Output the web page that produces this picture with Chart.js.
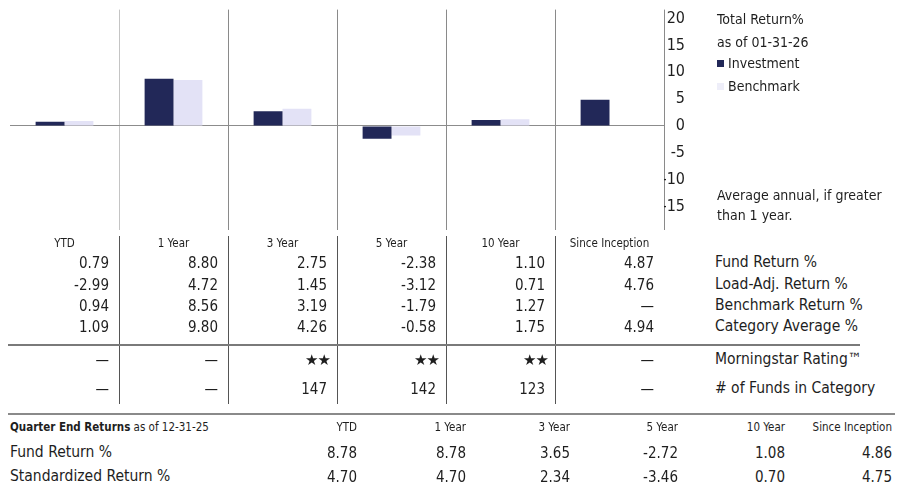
<!DOCTYPE html>
<html>
<head>
<meta charset="utf-8">
<script src="https://cdn.jsdelivr.net/npm/chart.js@4/dist/chart.umd.min.js"></script>
<style>
  html, body { margin: 0; padding: 0; background: #fff; }
  body { width: 900px; height: 497px; position: relative; overflow: hidden;
         font-family: "Liberation Sans Narrow", "DejaVu Sans Condensed", "Roboto Condensed", sans-serif; color: #1e1e1e; }
  #chartBox { position: absolute; left: 0; top: 0; width: 900px; height: 240px; }
  .t { position: absolute; white-space: nowrap; line-height: 1; }
  .hdr { font-size: 11.5px; transform: translate(-50%, -50%); }
  .val { font-size: 15px; transform: translate(-100%, -50%); }
  .lab { font-size: 15.5px; transform: translate(0, -50%); }
  .star { font-family: "DejaVu Sans", sans-serif; font-size: 15px; letter-spacing: -1px; transform: translate(-100%, -50%); }
  .vline { position: absolute; width: 1px; background: #555; }
  .hline { position: absolute; }
  .legsq { display: inline-block; width: 7px; height: 7px; margin-right: 4px; vertical-align: 1px; }
</style>
</head>
<body>
<div id="chartBox"><canvas id="c" width="900" height="240"></canvas></div>
<div id="table"></div>
<script>
// Trailing returns as of 01-31-26
const categories = ['YTD', '1 Year', '3 Year', '5 Year', '10 Year', 'Since Inception'];
const fundReturn = [0.79, 8.80, 2.75, -2.38, 1.10, 4.87];
const loadAdjReturn = [-2.99, 4.72, 1.45, -3.12, 0.71, 4.76];
const benchmarkReturn = [0.94, 8.56, 3.19, -1.79, 1.27, null];
const categoryAverage = [1.09, 9.80, 4.26, -0.58, 1.75, 4.94];
const ratingStars = [null, null, 2, 2, 2, null];
const fundsInCategory = [null, null, 147, 142, 123, null];

// Quarter-end returns as of 12-31-25
const quarterFundReturn = [8.78, 8.78, 3.65, -2.72, 1.08, 4.86];
const standardizedReturn = [4.70, 4.70, 2.34, -3.46, 0.70, 4.75];

const yTicks = [20, 15, 10, 5, 0, -5, -10, -15];

const NAVY = '#222858';
const LAVENDER = '#e3e2f6';
const FONT = '"Liberation Sans Narrow", "DejaVu Sans Condensed", sans-serif';

const chart = new Chart(document.getElementById('c'), {
  type: 'bar',
  data: {
    labels: categories,
    datasets: [
      { label: 'Investment', data: fundReturn, backgroundColor: NAVY },
      { label: 'Benchmark', data: benchmarkReturn, backgroundColor: LAVENDER }
    ]
  },
  options: {
    responsive: false,
    animation: false,
    devicePixelRatio: 1,
    layout: { padding: { left: 10, right: 215, top: 8, bottom: 10 } },
    plugins: { legend: { display: false }, tooltip: { enabled: false } },
    datasets: { bar: { categoryPercentage: 0.53, barPercentage: 1.0 } },
    scales: {
      x: {
        offset: true,
        ticks: { display: false },
        border: { display: false },
        grid: {
          offset: true,
          drawTicks: false,
          lineWidth: 1,
          color: (ctx) => {
            const i = ctx.index;
            if (i === 0 || i === categories.length) return 'rgba(0,0,0,0)';
            return i === 1 ? '#c4c4c4' : '#8a8a8a';
          }
        },
        afterFit: (s) => { s.height = 0; }
      },
      y: {
        position: 'right',
        min: -19.4,
        max: 21.7,
        afterBuildTicks: (s) => { s.ticks = yTicks.map(v => ({ value: v })); },
        border: { display: false },
        grid: {
          drawTicks: false,
          color: (ctx) => (ctx.tick && ctx.tick.value === 0) ? '#8c8c8c' : 'rgba(0,0,0,0)'
        },
        ticks: {
          padding: 0,
          crossAlign: 'far',
          color: '#1e1e1e',
          font: { family: FONT, size: 16 }
        },
        afterFit: (s) => { s.width = 21; }
      }
    }
  }
});

// ---- text table beneath the bars ----
const table = document.getElementById('table');
function put(cls, text, x, y, extra) {
  const d = document.createElement('div');
  d.className = 't ' + cls;
  d.textContent = text;
  d.style.left = x + 'px';
  d.style.top = y + 'px';
  if (extra) Object.assign(d.style, extra);
  table.appendChild(d);
  return d;
}
function fmt(v) { return v === null ? '—' : v.toFixed(2); }

const colLeft = 10, colW = 109;
const rowsY = [263, 285, 306, 327];
const rowSets = [fundReturn, loadAdjReturn, benchmarkReturn, categoryAverage];
const rowLabels = ['Fund Return %', 'Load-Adj. Return %', 'Benchmark Return %', 'Category Average %'];

categories.forEach((c, i) => {
  const left = colLeft + i * colW;
  put('hdr', c, left + colW / 2, 244);
  const right = left + colW - 10;
  rowSets.forEach((set, r) => put('val', fmt(set[i]), right, rowsY[r]));
  if (ratingStars[i]) put('star', '★'.repeat(ratingStars[i]), right + 3, 360);
  else put('val', '—', right, 360);
  put('val', fundsInCategory[i] === null ? '—' : String(fundsInCategory[i]), right, 389);
  if (i > 0) {
    const v = document.createElement('div');
    v.className = 'vline';
    v.style.left = left + 'px'; v.style.top = '236px'; v.style.height = '168px';
    table.appendChild(v);
  }
});
rowLabels.forEach((l, r) => put('lab', l, 715, rowsY[r]));
put('lab', 'Morningstar Rating™', 715, 360);
put('lab', '# of Funds in Category', 715, 389);

function hline(x, y, w, h, color) {
  const d = document.createElement('div');
  d.className = 'hline';
  Object.assign(d.style, { left: x + 'px', top: y + 'px', width: w + 'px', height: h + 'px', background: color });
  table.appendChild(d);
}
hline(8, 344, 852, 1.5, '#7a7a7a');
hline(8, 413, 887, 2, '#8a8a8a');

// quarter-end block
const qRight = [357, 466, 570, 678, 785, 892];
const qh = put('hdr', '', 10, 428, { transform: 'translate(0,-50%)' });
qh.innerHTML = '<b>Quarter End Returns</b> as of 12-31-25';
categories.forEach((c, i) => {
  put('hdr', c, qRight[i], 428, { transform: 'translate(-100%,-50%)' });
  put('val', fmt(quarterFundReturn[i]), qRight[i], 453);
  put('val', fmt(standardizedReturn[i]), qRight[i], 477);
});
put('lab', 'Fund Return %', 10, 453);
put('lab', 'Standardized Return %', 10, 477);

// legend and notes beside the value axis
put('lab', 'Total Return%', 717, 19, { fontSize: '14px' });
put('lab', 'as of 01-31-26', 717, 42, { fontSize: '14px' });
const inv = put('lab', '', 717, 63, { fontSize: '14px' });
inv.innerHTML = '<span class="legsq" style="background:' + NAVY + '"></span>Investment';
const bm = put('lab', '', 717, 86, { fontSize: '14px' });
bm.innerHTML = '<span class="legsq" style="background:#eeeef9"></span>Benchmark';
put('lab', 'Average annual, if greater', 717, 195, { fontSize: '14px' });
put('lab', 'than 1 year.', 717, 215, { fontSize: '14px' });
</script>
</body>
</html>
